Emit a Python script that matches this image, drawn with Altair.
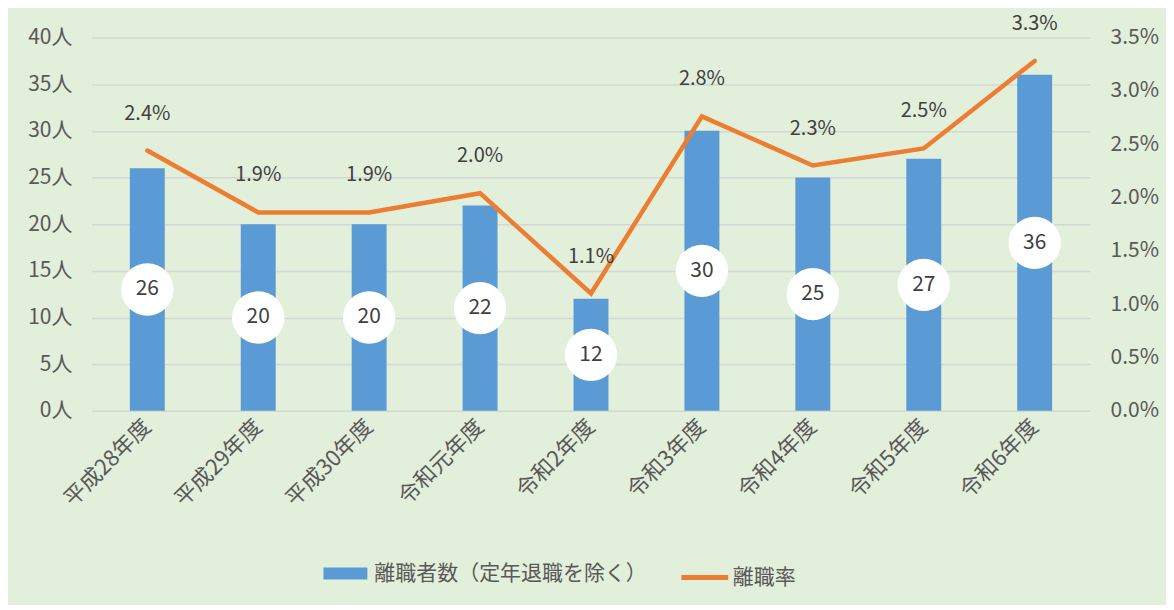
import altair as alt
import pandas as pd

years = ["平成28年度", "平成29年度", "平成30年度", "令和元年度", "令和2年度",
         "令和3年度", "令和4年度", "令和5年度", "令和6年度"]
counts = [26, 20, 20, 22, 12, 30, 25, 27, 36]
rates = [0.0244, 0.0186, 0.0186, 0.0204, 0.0110, 0.0276, 0.0230, 0.0246, 0.0328]

bar_name = "離職者数（定年退職を除く）"
line_name = "離職率"

df = pd.DataFrame({"year": years, "count": counts, "rate": rates})
df["half"] = df["count"] / 2
df["bar_series"] = bar_name
df["line_series"] = line_name

FONT = "Noto Sans CJK JP"
TXT = "#595959"

x = alt.X("year:N", sort=years, title=None,
          scale=alt.Scale(paddingInner=0, paddingOuter=0),
          axis=alt.Axis(labelAngle=-45, labelFontSize=22, labelColor=TXT,
                        labelFont=FONT, labelPadding=12, ticks=False,
                        domain=False, labelAlign="right", labelBaseline="middle"))

left_axis = alt.Axis(values=list(range(0, 41, 5)), labelExpr="datum.value + '人'",
                     labelFontSize=21, labelColor=TXT, labelFont=FONT,
                     labelPadding=20, ticks=False, domain=False,
                     grid=True, gridColor="#D4D8D4", gridWidth=1.5, title=None)
yscale = alt.Scale(domain=[0, 40], nice=False, zero=True)

base = alt.Chart(df)

bars = base.mark_bar(size=35).encode(
    x=x,
    y=alt.Y("count:Q", scale=yscale, axis=left_axis),
    color=alt.Color("bar_series:N", title=None,
                    scale=alt.Scale(domain=[bar_name], range=["#5B9BD5"]),
                    legend=alt.Legend(orient="none", legendX=232, legendY=515,
                                      symbolType="M-1,-0.27L1,-0.27L1,0.27L-1,0.27Z",
                                      symbolSize=1936, symbolStrokeWidth=0,
                                      symbolOpacity=1,
                                      labelFontSize=21, labelColor=TXT, labelFont=FONT,
                                      labelOffset=7, padding=0, labelLimit=400)),
)

circles = base.mark_circle(size=2750, color="white", opacity=1).encode(
    x=x,
    y=alt.Y("half:Q", scale=yscale, axis=left_axis),
)

circle_text = base.mark_text(fontSize=21, color="#404040", font=FONT).encode(
    x=x,
    y=alt.Y("half:Q", scale=yscale, axis=left_axis),
    text=alt.Text("count:Q"),
)

left = alt.layer(bars, circles, circle_text)

right_axis = alt.Axis(values=[i * 0.005 for i in range(8)], format=".1%",
                      orient="right", labelFontSize=21, labelColor=TXT,
                      labelFont=FONT, labelPadding=20, ticks=False,
                      domain=False, grid=False, title=None)
rscale = alt.Scale(domain=[0, 0.035], nice=False, zero=True)

line = base.mark_line(strokeWidth=4.5, strokeCap="round").encode(
    x=x,
    y=alt.Y("rate:Q", scale=rscale, axis=right_axis),
    stroke=alt.Stroke("line_series:N", title=None,
                      scale=alt.Scale(domain=[line_name], range=["#ED7D31"]),
                      legend=alt.Legend(orient="none", legendX=588, legendY=515,
                                        symbolType="stroke", symbolSize=2200,
                                        symbolStrokeWidth=5,
                                        labelFontSize=21, labelColor=TXT,
                                        labelFont=FONT, labelOffset=2, padding=0)),
)

line_text = base.mark_text(fontSize=20, color="#404040", font=FONT, dy=-37).encode(
    x=x,
    y=alt.Y("rate:Q", scale=rscale, axis=right_axis),
    text=alt.Text("rate:Q", format=".1%"),
)

right = alt.layer(line, line_text)

chart = alt.layer(left, right).resolve_scale(
    y="independent", color="independent", stroke="independent"
).properties(
    width=1000, height=374,
    autosize=alt.AutoSizeParams(type="none"),
    padding={"left": 84, "top": 29, "right": 76, "bottom": 194},
    background="#E2EFDA",
).configure_view(stroke=None).configure_legend(
    labelFont=FONT
)

chart.save("out.html", embed_options={"renderer": "svg", "actions": False})
